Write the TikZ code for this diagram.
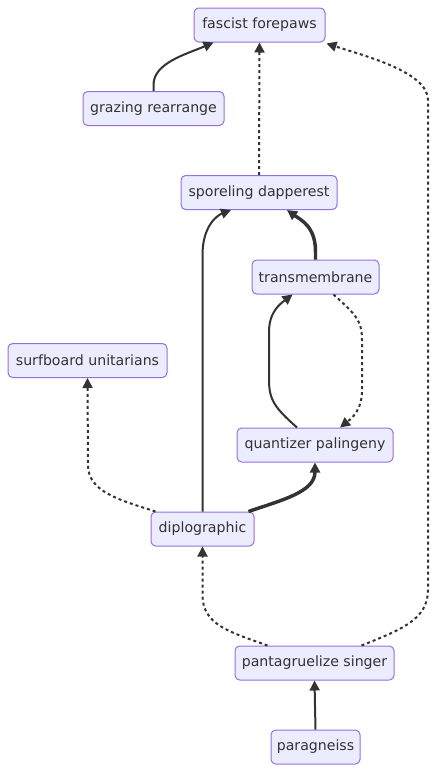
\documentclass[tikz,border=0pt]{standalone}
\usepackage{fontspec}
\setmainfont{DejaVu Sans}
\usetikzlibrary{arrows.meta,calc}
\definecolor{boxfill}{HTML}{ECECFF}
\definecolor{boxborder}{HTML}{9370DB}
\definecolor{ink}{HTML}{333333}
\begin{document}
\begin{tikzpicture}[x=0.75pt,y=-0.75pt,
  box/.style={draw=boxborder, fill=boxfill, rounded corners=3.5pt, line width=0.75pt,
    minimum height=25.5pt, minimum width=#1*0.75pt, inner xsep=2pt, inner ysep=0pt,
    text=ink, font=\fontsize{10.6pt}{12pt}\selectfont},
  edge/.style={draw=ink, line width=1.5pt, -{Triangle[length=7.5pt,width=7.5pt]}},
  thick edge/.style={edge, line width=2.6pt},
  dot edge/.style={edge, dash pattern=on 2.25pt off 2.25pt}]
\useasboundingbox (0,0) rectangle (437,772);
\node[box=131] (fas) at (259.5,25) {fascist forepaws};
\node[box=141] (grz) at (153.5,108.5) {grazing rearrange};
\node[box=156] (spo) at (259,192.5) {sporeling dapperest};
\node[box=127] (tra) at (315.5,277) {transmembrane};
\node[box=159] (sur) at (87.5,360.5) {surfboard unitarians};
\node[box=156] (qua) at (315,445) {quantizer palingeny};
\node[box=103] (dip) at (202.5,529) {diplographic};
\node[box=159] (pan) at (314.5,663) {pantagruelize singer};
\node[box=89] (par) at (315.5,747) {paragneiss};
% grazing -> fascist
\draw[edge] (grz.north) -- ++(0,-6) .. controls +(0,-22) and +(-28,12) .. ($(fas.south)+(-46,0)$);
% sporeling -> fascist
\draw[dot edge] (spo.north) -- (fas.south);
% pantagruelize -> fascist
\draw[dot edge] ($(pan.north)+(47,0)$) .. controls (400,630) and (428,620) .. (428,590)
  -- (428,100) .. controls (428,72) and (365,56) .. ($(fas.south east)+(1,1)$);
% pantagruelize -> diplographic
\draw[dot edge] ($(pan.north)+(-47,0)$) .. controls (230,632) and (202.5,625) .. (202.5,595) -- (dip.south);
% diplographic -> surfboard
\draw[dot edge] ($(dip.north)+(-47,0)$) .. controls (120,500) and (88,492) .. (88,465) -- (sur.south);
% diplographic -> quantizer (thick)
\draw[thick edge] ($(dip.north)+(46,0)$) .. controls (282,500) and (315,492) .. (qua.south);
% diplographic -> sporeling
\draw[edge] (dip.north) -- (202.5,255) .. controls (202.5,225) and (218,215) .. ($(spo.south)+(-28,0)$);
% transmembrane -> sporeling (thick)
\draw[thick edge] (tra.north) -- ++(0,-8) .. controls +(0,-25) and +(14,10) .. ($(spo.south)+(28,0)$);
% quantizer -> transmembrane
\draw[edge] ($(qua.north)+(-18,0)$) .. controls (275,408) and (269,400) .. (269,380)
  -- (269,332) .. controls (269,312) and (280,304) .. ($(tra.south)+(-23,0)$);
% transmembrane -> quantizer
\draw[dot edge] ($(tra.south)+(18,0)$) .. controls (355,314) and (362,320) .. (362,340)
  -- (362,390) .. controls (362,410) and (352,418) .. ($(qua.north)+(25,0)$);
% paragneiss -> pantagruelize
\draw[edge] (par.north) -- (pan.south);
\end{tikzpicture}
\end{document}
